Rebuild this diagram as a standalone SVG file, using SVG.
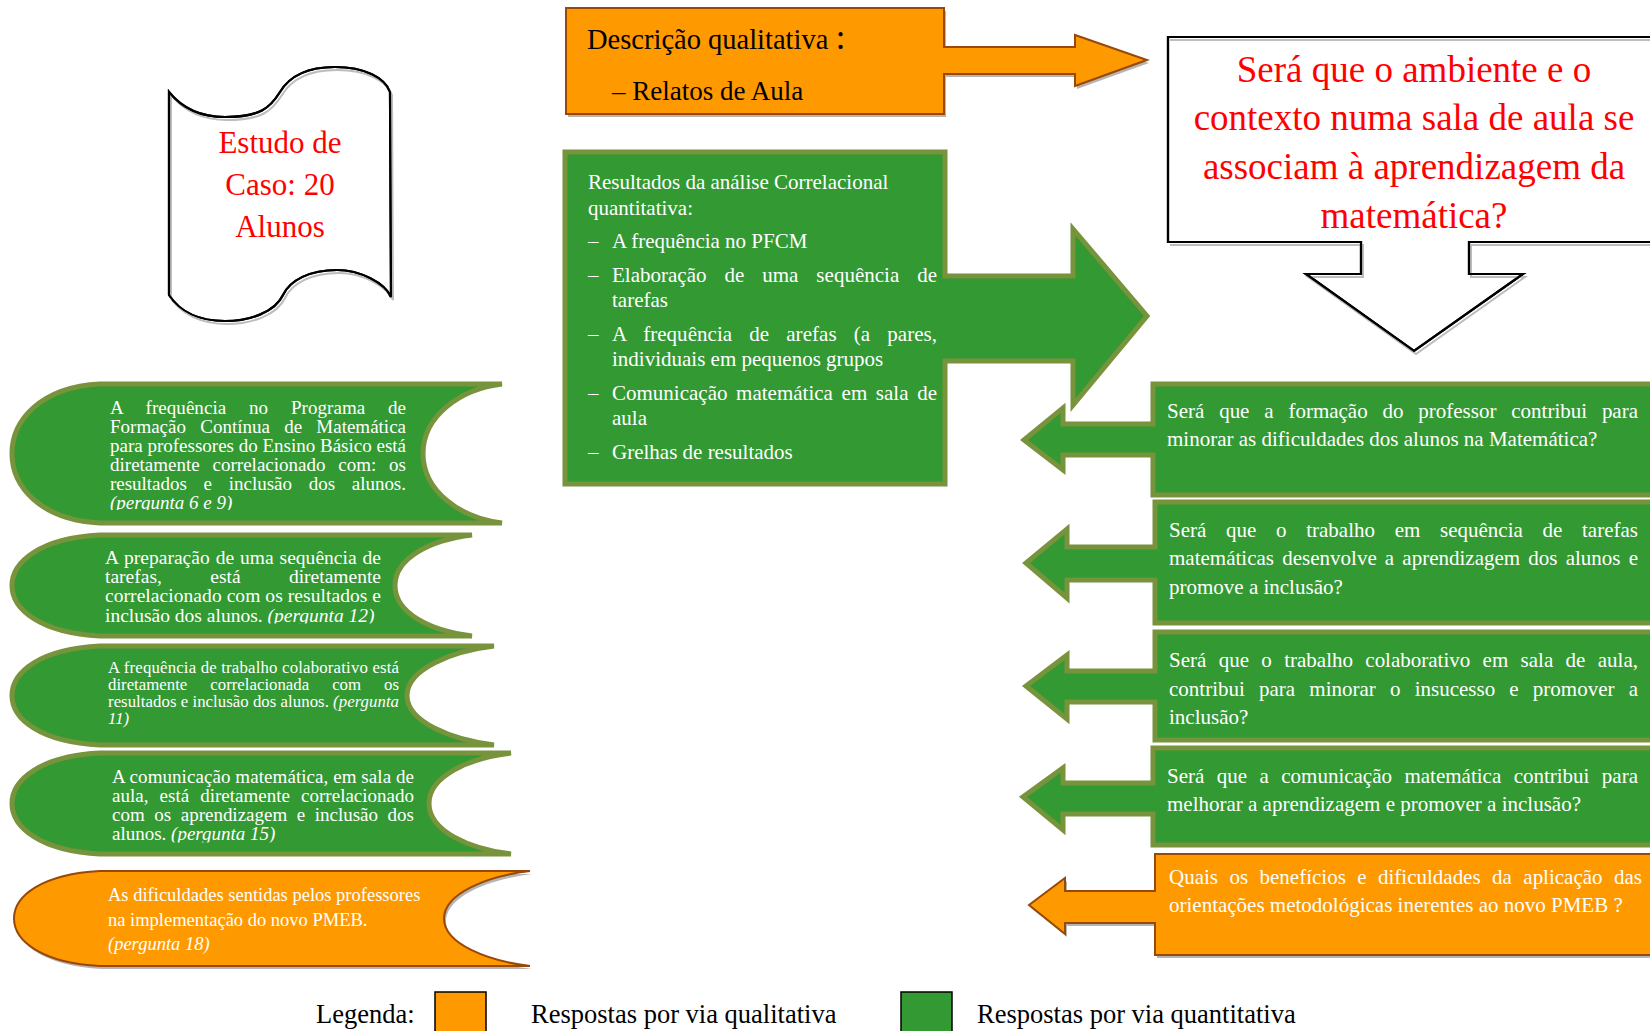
<svg xmlns="http://www.w3.org/2000/svg" width="1650" height="1031" viewBox="0 0 1650 1031">
<defs>
<style>
.t{font-family:"Liberation Serif","Times New Roman",serif}
.w{fill:#ffffff}
.k{fill:#000000}
.r{fill:#ff0000}
.it{font-style:italic}
.g{fill:#339933;stroke:#77933C;stroke-width:5;stroke-linejoin:miter}
.o{fill:#FF9900;stroke:#984807;stroke-width:2}
.sh{fill:#b5b5b5;stroke:none}
.shl{fill:none;stroke:#bdbdbd;stroke-width:2}
.bl{fill:#ffffff;stroke:#000000;stroke-width:2.2}
.b19{font-size:19px}
.b195{font-size:19.5px}
.b17{font-size:16.8px}
.b185{font-size:18.5px}
.f21{font-size:21px}
</style>
<clipPath id="c1"><rect x="0" y="380" width="520" height="130"/></clipPath>
<clipPath id="c2"><rect x="0" y="530" width="520" height="93.5"/></clipPath>
<clipPath id="c4"><rect x="0" y="750" width="540" height="92.5"/></clipPath>
</defs>
<rect width="1650" height="1031" fill="#ffffff"/>

<g id="connectors">
<!-- arrow shapes are part of their callout nodes -->
</g>

<g id="scroll">
<path class="bl" d="M169,92 C185,112 205,117 225,117 C260,117 270,108 280,92 C292,72 315,67 335,67 C365,67 385,78 390,92 L391,297 C385,283 360,270 337,270 C310,270 290,280 283,295 C275,312 250,321 225,321 C200,321 180,312 169,295 Z"/>
<path class="shl" transform="translate(2,3)" d="M169,92 C185,112 205,117 225,117 C260,117 270,108 280,92 C292,72 315,67 335,67 C365,67 385,78 390,92 L391,297 C385,283 360,270 337,270 C310,270 290,280 283,295 C275,312 250,321 225,321 C200,321 180,312 169,295 Z"/>
<path fill="none" stroke="#000" stroke-width="2.2" d="M169,92 C185,112 205,117 225,117 C260,117 270,108 280,92 C292,72 315,67 335,67 C365,67 385,78 390,92 L391,297 C385,283 360,270 337,270 C310,270 290,280 283,295 C275,312 250,321 225,321 C200,321 180,312 169,295 Z"/>
<text class="t r" font-size="31" text-anchor="middle"><tspan x="280" y="153">Estudo de</tspan><tspan x="280" y="195">Caso: 20</tspan><tspan x="280" y="237">Alunos</tspan></text>
</g>

<g id="qualitative-box">
<path class="sh" transform="translate(2,3)" d="M566,8 H944 V47 H1075 V35 L1147,60 L1075,86 V74 H944 V114 H566 Z"/>
<path class="o" d="M566,8 H944 V47 H1075 V35 L1147,60 L1075,86 V74 H944 V114 H566 Z"/>
<text class="t k" x="587" y="49" font-size="28.5">Descrição qualitativa <tspan font-size="36">:</tspan></text>
<text class="t k" x="612" y="100" font-size="27">– Relatos de Aula</text>
</g>

<g id="quantitative-box">
<path class="g" d="M565,152 H945 V276 H1073 V229 L1147,316 L1073,405 V361 H945 V484 H565 Z"/>
<g class="t w f21">
<text x="588" y="189">Resultados da análise Correlacional</text>
<text x="588" y="215">quantitativa:</text>
<text x="588" y="248">–</text><text x="612" y="248">A frequência no PFCM</text>
<text x="588" y="282">–</text><text x="612" y="282" word-spacing="12.7" textLength="325" lengthAdjust="spacing">Elaboração de uma sequência de</text>
<text x="612" y="307">tarefas</text>
<text x="588" y="341">–</text><text x="612" y="341" word-spacing="11.8" textLength="325" lengthAdjust="spacing">A frequência de arefas (a pares,</text>
<text x="612" y="366">individuais em pequenos grupos</text>
<text x="588" y="400">–</text><text x="612" y="400" word-spacing="3.4" textLength="325" lengthAdjust="spacing">Comunicação matemática em sala de</text>
<text x="612" y="425">aula</text>
<text x="588" y="459">–</text><text x="612" y="459">Grelhas de resultados</text>
</g>
</g>

<g id="main-question">
<path class="bl" d="M1168,37 H1662 V242 H1469 V274 H1523 L1414,351 L1306,274 H1361 V242 H1168 Z"/>
<path class="shl" transform="translate(2,3)" d="M1168,37 H1662 V242 H1469 V274 H1523 L1414,351 L1306,274 H1361 V242 H1168"/>
<path fill="none" stroke="#000" stroke-width="2.2" d="M1168,37 H1662 V242 H1469 V274 H1523 L1414,351 L1306,274 H1361 V242 H1168 Z"/>
<text class="t r" font-size="37" text-anchor="middle"><tspan x="1414" y="82">Será que o ambiente e o</tspan><tspan x="1414" y="130">contexto numa sala de aula se</tspan><tspan x="1414" y="179">associam à aprendizagem da</tspan><tspan x="1414" y="228">matemática?</tspan></text>
</g>

<g id="banner-1">
<path class="g" d="M502,384 L100,384 C40,387 12,421 12,453.5 C12,486 40,520 100,523 L502,523 C460,518 423,491 423,453.5 C423,416 460,389 502,384 Z"/>
<g class="t w b19" clip-path="url(#c1)">
<text x="110" y="414" word-spacing="18" textLength="296" lengthAdjust="spacing">A frequência no Programa de</text>
<text x="110" y="433" word-spacing="9.5" textLength="296" lengthAdjust="spacing">Formação Contínua de Matemática</text>
<text x="110" y="452" textLength="296" lengthAdjust="spacing">para professores do Ensino Básico está</text>
<text x="110" y="471" word-spacing="8" textLength="296" lengthAdjust="spacing">diretamente correlacionado com: os</text>
<text x="110" y="490" word-spacing="12" textLength="296" lengthAdjust="spacing">resultados e inclusão dos alunos.</text>
<text x="110" y="508.5" class="it">(pergunta 6 e 9)</text>
</g>
</g>

<g id="banner-2">
<path class="g" d="M472,535 L100,535 C40,538 12,562 12,585.5 C12,609 40,633 100,636 L472,636 C430,631 395,613 395,585.5 C395,558 430,540 472,535 Z"/>
<g class="t w b195" clip-path="url(#c2)">
<text x="105" y="563.5" word-spacing="1" textLength="276" lengthAdjust="spacing">A preparação de uma sequência de</text>
<text x="105" y="583" word-spacing="43.5" textLength="276" lengthAdjust="spacing">tarefas, está diretamente</text>
<text x="105" y="602" textLength="276" lengthAdjust="spacing">correlacionado com os resultados e</text>
<text x="105" y="621.5">inclusão dos alunos. <tspan class="it">(pergunta 12)</tspan></text>
</g>
</g>

<g id="banner-3">
<path class="g" d="M494,646 L100,646 C40,649 12,672 12,695.5 C12,719 40,742 100,745 L494,745 C452,740 407,722 407,695.5 C407,669 452,651 494,646 Z"/>
<g class="t w b17">
<text x="108" y="673" textLength="291" lengthAdjust="spacing">A frequência de trabalho colaborativo está</text>
<text x="108" y="690" word-spacing="18.8" textLength="291" lengthAdjust="spacing">diretamente correlacionada com os</text>
<text x="108" y="707" textLength="291" lengthAdjust="spacing">resultados e inclusão dos alunos.  <tspan class="it">(pergunta</tspan></text>
<text x="108" y="724" class="it">11)</text>
</g>
</g>

<g id="banner-4">
<path class="g" d="M511,753 L100,753 C40,756 12,780 12,803.5 C12,827 40,851 100,854 L511,854 C469,849 429,831 429,803.5 C429,776 469,758 511,753 Z"/>
<g class="t w b19" clip-path="url(#c4)">
<text x="112" y="783" textLength="302" lengthAdjust="spacing">A comunicação matemática, em sala de</text>
<text x="112" y="802" word-spacing="6.4" textLength="302" lengthAdjust="spacing">aula, está diretamente correlacionado</text>
<text x="112" y="821" word-spacing="4.8" textLength="302" lengthAdjust="spacing">com os aprendizagem e inclusão dos</text>
<text x="112" y="840">alunos. <tspan class="it">(pergunta 15)</tspan></text>
</g>
</g>

<g id="banner-5">
<path class="sh" transform="translate(2,3)" d="M530,871 L100,871 C42,874 14,896 14,918.5 C14,941 42,963 100,966 L530,966 C488,961 444,944 444,918.5 C444,893 488,876 530,871 Z"/>
<path class="o" d="M530,871 L100,871 C42,874 14,896 14,918.5 C14,941 42,963 100,966 L530,966 C488,961 444,944 444,918.5 C444,893 488,876 530,871 Z"/>
<g class="t w b185">
<text x="108" y="901">As dificuldades sentidas pelos professores</text>
<text x="108" y="926">na implementação do novo  PMEB.</text>
<text x="108" y="950" class="it">(pergunta 18)</text>
</g>
</g>

<g id="question-a">
<path class="g" d="M1662,384 H1153 V424 H1063 V408 L1024,440 L1063,470 V455 H1153 V495 H1662 Z"/>
<g class="t w f21">
<text x="1167" y="418" word-spacing="9.6" textLength="471" lengthAdjust="spacing">Será que a formação do professor contribui para</text>
<text x="1167" y="446">minorar as dificuldades dos alunos na Matemática?</text>
</g>
</g>

<g id="question-b">
<path class="g" d="M1662,502 H1155 V547 H1067 V529 L1026,563 L1067,598 V580 H1155 V623 H1662 Z"/>
<g class="t w f21">
<text x="1169" y="537" word-spacing="14.4" textLength="469" lengthAdjust="spacing">Será que o trabalho em sequência de tarefas</text>
<text x="1169" y="565" word-spacing="2.9" textLength="469" lengthAdjust="spacing">matemáticas desenvolve a aprendizagem dos alunos e</text>
<text x="1169" y="593.5">promove a inclusão?</text>
</g>
</g>

<g id="question-c">
<path class="g" d="M1662,632 H1155 V671 H1067 V655 L1026,686 L1067,719 V702 H1155 V740 H1662 Z"/>
<g class="t w f21">
<text x="1169" y="667" word-spacing="7.1" textLength="469" lengthAdjust="spacing">Será que o trabalho colaborativo em sala de aula,</text>
<text x="1169" y="696" word-spacing="8.9" textLength="469" lengthAdjust="spacing">contribui para minorar o insucesso e promover a</text>
<text x="1169" y="724">inclusão?</text>
</g>
</g>

<g id="question-d">
<path class="g" d="M1662,748 H1153 V783 H1063 V768 L1023,797 L1063,830 V814 H1153 V845 H1662 Z"/>
<g class="t w f21">
<text x="1167" y="783" word-spacing="7.2" textLength="471" lengthAdjust="spacing">Será que a comunicação matemática contribui para</text>
<text x="1167" y="811">melhorar a aprendizagem e promover a inclusão?</text>
</g>
</g>

<g id="question-e">
<path class="sh" transform="translate(2,3)" d="M1662,854 H1155 V891 H1065 V878 L1029,905 L1065,934 V923 H1155 V955 H1662 Z"/>
<path class="o" d="M1662,854 H1155 V891 H1065 V878 L1029,905 L1065,934 V923 H1155 V955 H1662 Z"/>
<g class="t w f21">
<text x="1169" y="884" word-spacing="6.2" textLength="473" lengthAdjust="spacing">Quais os benefícios e dificuldades da aplicação das</text>
<text x="1169" y="912">orientações metodológicas inerentes ao novo PMEB ?</text>
</g>
</g>

<g id="legend">
<text class="t k" x="316" y="1023" font-size="26.5">Legenda:</text>
<rect x="435" y="992" width="51" height="45" fill="#FF9900" stroke="#000" stroke-width="1.5"/>
<text class="t k" x="531" y="1023" font-size="26.5">Respostas por via qualitativa</text>
<rect x="901" y="992" width="51" height="45" fill="#339933" stroke="#000" stroke-width="1.5"/>
<text class="t k" x="977" y="1023" font-size="26.5">Respostas por via quantitativa</text>
</g>
</svg>
